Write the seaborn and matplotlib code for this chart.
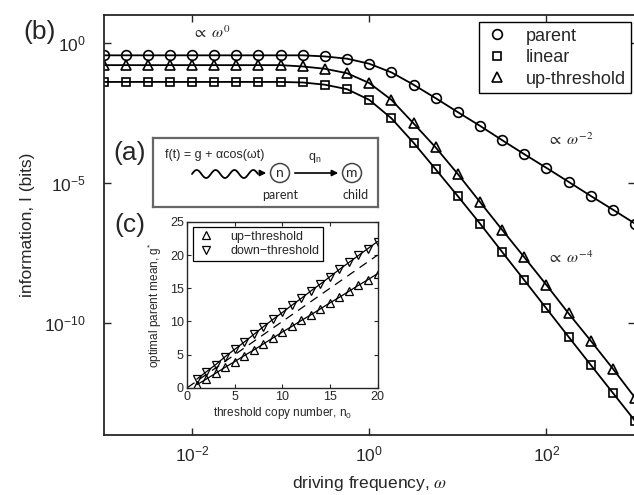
import numpy as np
import pandas as pd
import seaborn as sns
import matplotlib.pyplot as plt
from matplotlib.lines import Line2D
from matplotlib.patches import Circle

# main panel (b): information vs driving frequency
omega = [1e-3, 1.78e-3, 3.16e-3, 5.62e-3, 1e-2, 1.78e-2, 3.16e-2, 5.62e-2,
         0.1, 0.178, 0.316, 0.562, 1.0, 1.78, 3.16, 5.62,
         10, 17.8, 31.6, 56.2, 100, 178, 316, 562, 1000]
info_parent = [0.363, 0.363, 0.363, 0.363, 0.363, 0.363, 0.363, 0.363, 0.363, 0.363,
               0.331, 0.275, 0.182, 0.0891, 0.0324, 0.0107, 3.39e-3, 1.10e-3,
               3.39e-4, 1.07e-4, 3.47e-5, 1.10e-5, 3.47e-6, 1.12e-6, 3.55e-7]
info_linear = [0.0407, 0.0407, 0.0407, 0.0407, 0.0407, 0.0407, 0.0407, 0.0407, 0.0407,
               0.0389, 0.0324, 0.0224, 9.33e-3, 2.04e-3, 2.75e-4, 3.09e-5, 3.39e-6,
               3.55e-7, 3.47e-8, 3.4e-9, 3.3e-10, 3.2e-11, 3.2e-12, 3.2e-13, 3.2e-14]
info_up = [0.162, 0.162, 0.162, 0.162, 0.162, 0.162, 0.162, 0.162, 0.162,
           0.145, 0.120, 0.0832, 0.0372, 9.33e-3, 1.35e-3, 1.86e-4, 2.09e-5,
           2.09e-6, 2.14e-7, 2.24e-8, 2.29e-9, 2.19e-10, 2.34e-11, 2.34e-12, 2.14e-13]

# inset (c): optimal parent mean vs threshold copy number
n0 = list(range(1, 21))
g_up = [0.45, 1.3, 2.2, 3.1, 3.95, 4.85, 5.7, 6.6, 7.5, 8.4,
        9.25, 10.15, 11.0, 11.9, 12.8, 13.65, 14.55, 15.45, 16.3, 17.2]
g_down = [1.3, 2.4, 3.5, 4.7, 5.8, 6.9, 8.05, 9.2, 10.3, 11.35,
          12.45, 13.5, 14.6, 15.65, 16.75, 17.85, 18.9, 19.95, 21.0, 22.05]
ref_n0 = [0, 20]
ref_g = [0, 20]

sns.set_style('ticks')
plt.rcParams['font.family'] = ['Liberation Sans', 'DejaVu Sans']
plt.rcParams['axes.linewidth'] = 1.3

W, H = 634, 495


def px(x, y):
    return x / W, 1 - y / H


fig = plt.figure(figsize=(6.34, 4.95), dpi=100)
ax = fig.add_axes([103.5 / W, 1 - 435 / H, (635 - 103.5) / W, 420 / H])
ax.set_xscale('log')
ax.set_yscale('log')

df = pd.DataFrame({'omega': omega, 'parent': info_parent,
                   'linear': info_linear, 'up-threshold': info_up})
mk = {'parent': 'o', 'linear': 's', 'up-threshold': '^'}
ms = {'parent': 7, 'linear': 6, 'up-threshold': 7.5}
for name in ['parent', 'linear', 'up-threshold']:
    sns.lineplot(data=df, x='omega', y=name, ax=ax, color='k', lw=1.3,
                 marker=mk[name], ms=ms[name], mfc='none', mec='k', mew=1.2)

ax.set_xlim(1e-3, 1e3)
ax.set_ylim(1e-14, 1e1)
ax.set_xticks([1e-2, 1, 1e2])
ax.set_yticks([1, 1e-5, 1e-10])
ax.minorticks_off()
ax.tick_params(direction='in', top=True, right=True, length=5, width=1,
               labelsize=12.5)
ax.tick_params(axis='y', pad=13)
ax.tick_params(axis='x', pad=7)
ax.set_xlabel('driving frequency, $\\omega$', fontsize=12.5, labelpad=7,
              math_fontfamily='stix')
ax.set_ylabel('information, I (bits)', fontsize=12.5, labelpad=6)

handles = [Line2D([], [], ls='none', marker=mk[n], ms=ms[n], mfc='none', mec='k',
                  mew=1.2, label=n) for n in ['parent', 'linear', 'up-threshold']]
leg = ax.legend(handles=handles, loc='upper right', bbox_to_anchor=(0.9925, 0.983),
                borderaxespad=0, fontsize=13, fancybox=False, framealpha=1,
                edgecolor='k', handlelength=1.4, handletextpad=0.9,
                labelspacing=0.25, borderpad=0.3)
leg.get_frame().set_linewidth(1.0)

fig.text(*px(40, 32), '(b)', fontsize=19, ha='center', va='center')
fig.text(*px(211, 33), '$\\propto\\ \\omega^{0}$', fontsize=11.5, ha='center',
         va='center', math_fontfamily='stix')
fig.text(*px(570, 140), '$\\propto\\ \\omega^{-2}$', fontsize=11.5, ha='center',
         va='center', math_fontfamily='stix')
fig.text(*px(570, 258), '$\\propto\\ \\omega^{-4}$', fontsize=11.5, ha='center',
         va='center', math_fontfamily='stix')

# inset (a): schematic
axa = fig.add_axes([153 / W, 1 - 207 / H, 225 / W, 69 / H])
axa.set_xlim(153, 378)
axa.set_ylim(207, 138)
axa.set_xticks([])
axa.set_yticks([])
for s in axa.spines.values():
    s.set_color('#666666')
    s.set_linewidth(1.6)
axa.text(165, 155, 'f(t) = g + \u03b1cos(\u03c9t)', fontsize=9, ha='left', va='center')
wx = np.linspace(192, 258, 120)
axa.plot(wx, 174 - 4 * np.sin((wx - 192) / 66 * 3.5 * 2 * np.pi), color='k', lw=1.3)
axa.annotate('', xy=(269, 173), xytext=(257, 173),
             arrowprops=dict(arrowstyle='-|>', color='k', lw=1.2, mutation_scale=9))
axa.add_patch(Circle((280, 173), 9.5, fill=False, ec='#444444', lw=1.1))
axa.add_patch(Circle((352, 173), 9.5, fill=False, ec='#444444', lw=1.1))
axa.text(280, 173, 'n', fontsize=10, ha='center', va='center', family='Lato')
axa.text(352, 173, 'm', fontsize=10, ha='center', va='center', family='Lato')
axa.annotate('', xy=(341, 173), xytext=(292, 173),
             arrowprops=dict(arrowstyle='-|>', color='k', lw=1.2, mutation_scale=9))
axa.text(315, 158, 'q$_\\mathregular{n}$', fontsize=9, ha='center', va='center')
axa.text(280, 195, 'parent', fontsize=9, ha='center', va='center', family='Lato')
axa.text(356, 195, 'child', fontsize=9, ha='center', va='center', family='Lato')
fig.text(*px(130, 153), '(a)', fontsize=19, ha='center', va='center')

# inset (c)
axc = fig.add_axes([187.3 / W, 1 - 387.7 / H, 190.2 / W, 165.7 / H])
dfc = pd.DataFrame({'n0': n0, 'up': g_up, 'down': g_down})
sns.lineplot(data=dfc, x='n0', y='up', ax=axc, color='k', lw=0.9, marker='^',
             ms=5.5, mfc='none', mec='k', mew=0.9)
sns.lineplot(data=dfc, x='n0', y='down', ax=axc, color='k', lw=0.9, marker='v',
             ms=5.5, mfc='none', mec='k', mew=0.9)
sns.lineplot(x=ref_n0, y=ref_g, ax=axc, color='k', lw=0.9, dashes=False,
             linestyle=(0, (7, 5)))
axc.set_xlim(0, 20)
axc.set_ylim(0, 25)
axc.set_xticks([0, 5, 10, 15, 20])
axc.set_yticks([0, 5, 10, 15, 20, 25])
for s in axc.spines.values():
    s.set_linewidth(1.0)
axc.tick_params(direction='in', top=True, right=True, length=3, width=0.8,
                labelsize=9, pad=2.5)
axc.set_xlabel('threshold copy number, n$_\\mathregular{0}$', fontsize=8.5, labelpad=1)
axc.set_ylabel('optimal parent mean, g$^\\mathregular{*}$', fontsize=8.5, labelpad=4)
hc = [Line2D([], [], ls='none', marker='^', ms=5.5, mfc='none', mec='k', mew=0.9,
             label='up\u2212threshold'),
      Line2D([], [], ls='none', marker='v', ms=5.5, mfc='none', mec='k', mew=0.9,
             label='down\u2212threshold')]
legc = axc.legend(handles=hc, loc='upper left', bbox_to_anchor=(0.03, 0.97),
                  borderaxespad=0, fontsize=9, fancybox=False, framealpha=1,
                  edgecolor='k', handlelength=1.5, handletextpad=1.2,
                  labelspacing=0.2, borderpad=0.3)
legc.get_frame().set_linewidth(0.9)
fig.text(*px(130, 225), '(c)', fontsize=19, ha='center', va='center')

fig.savefig('out.png', dpi=100)
